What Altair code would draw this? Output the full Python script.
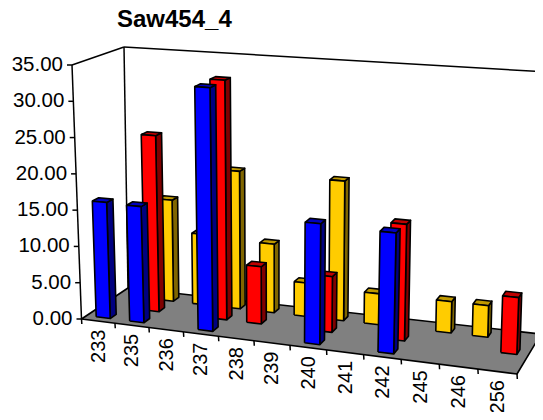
import altair as alt
import numpy as np

categories = ["233", "235", "236", "237", "238", "239", "240", "241", "242", "245", "246", "256"]
blue = [16.0, 15.9, None, 32.9, None, None, 16.0, None, 15.8, None, None, None]
red = [None, 24.5, None, 32.9, 7.8, None, 7.5, None, 15.5, None, None, 7.4]
yellow = [None, 14.3, 9.9, 19.2, 9.5, 4.6, 19.1, 4.2, None, 4.2, 4.2, None]
value_ticks = [0, 5, 10, 15, 20, 25, 30, 35]
title_text = "Saw454_4"

# series, back row to front row: (values, row, face, side, top)
series = [
    (yellow, 2, "#FFCC00", "#806600", "#BF9900"),
    (red, 1, "#FF0000", "#800000", "#BF0000"),
    (blue, 0, "#0000FF", "#000080", "#0000BF"),
]

N, D, VMAX = len(categories), 3, 35.0
FLOOR = [(81.5, 319), (517, 374), (541, 334), (128, 288)]
# how the vertical edge at each floor corner runs up to the value-axis maximum
RISE = [(-9.5, -254), (11, -275), (7, -262), (-4, -241)]
WORLD = [(0, 0), (N, 0), (N, D), (0, D)]


def homography(src, dst):
    A, b = [], []
    for (x, y), (u, v) in zip(src, dst):
        A.append([x, y, 1, 0, 0, 0, -u * x, -u * y]); b.append(u)
        A.append([0, 0, 0, x, y, 1, -v * x, -v * y]); b.append(v)
    h = np.linalg.solve(np.array(A, float), np.array(b, float))
    return np.append(h, 1).reshape(3, 3)


HF = homography(WORLD, FLOOR)


def project(c, d, v):
    u, w = c / N, d / D
    rise = [
        (1 - u) * (1 - w) * RISE[0][k] + u * (1 - w) * RISE[1][k]
        + u * w * RISE[2][k] + (1 - u) * w * RISE[3][k]
        for k in (0, 1)
    ]
    c = c + 0.08 * c * (N - c) / N
    p = HF @ [c, d, 1]
    p = p[:2] / p[2]
    return float(p[0] + rise[0] * v / VMAX), float(p[1] + rise[1] * v / VMAX)


polys = []


def add_poly(pts, fill):
    pid = len(set(r["poly"] for r in polys))
    for s, (x, y) in enumerate(pts + pts[:1]):
        polys.append({"poly": pid, "seq": s, "x": x, "y": y, "fill": fill})


add_poly([project(0, 0, 0), project(N, 0, 0), project(N, D, 0), project(0, D, 0)], "#808080")

BW, BD = 0.42, 0.38
for vals, row, face, side, top in series:
    for i, v in enumerate(vals):
        if v is None:
            continue
        c0, c1 = i + 0.5 - BW / 2, i + 0.5 + BW / 2
        d0, d1 = row + 0.5 - BD / 2, row + 0.5 + BD / 2
        add_poly([project(c1, d0, 0), project(c1, d1, 0), project(c1, d1, v), project(c1, d0, v)], side)
        add_poly([project(c0, d0, v), project(c1, d0, v), project(c1, d1, v), project(c0, d1, v)], top)
        add_poly([project(c0, d0, 0), project(c1, d0, 0), project(c1, d0, v), project(c0, d0, v)], face)

lines = []


def add_line(a, b):
    lid = len(lines) // 2
    lines.append({"line": lid, "seq": 0, "x": a[0], "y": a[1]})
    lines.append({"line": lid, "seq": 1, "x": b[0], "y": b[1]})


add_line(project(0, 0, 0), project(0, 0, VMAX))
add_line(project(0, 0, VMAX), project(0, D, VMAX))
add_line(project(0, D, VMAX), project(0, D, 0))
add_line(project(0, D, VMAX), project(N, D, VMAX))
add_line(project(N, D, VMAX), project(N, D, 0))
for t in value_ticks:
    x, y = project(0, 0, t)
    add_line((x - 5, y), (x, y))
for i in range(N + 1):
    x, y = project(i, 0, 0)
    add_line((x, y), (x + 0.3, y + 5))

y_labels = []
for t in value_ticks:
    x, y = project(0, 0, t)
    y_labels.append({"x": x - 9, "y": y, "label": f"{t:.2f}"})
x_labels = []
for i, c in enumerate(categories):
    x, y = project(i + 0.5, 0, 0)
    x_labels.append({"x": x + 0.5, "y": y + 8.5, "label": c})

W, H = 527, 404
X = alt.X("x:Q", axis=None, scale=alt.Scale(domain=[8, 8 + W], nice=False, zero=False))
Y = alt.Y("y:Q", axis=None, scale=alt.Scale(domain=[8 + H, 8], nice=False, zero=False))
FONT = "Liberation Sans"

poly_layer = alt.Chart(alt.Data(values=polys)).mark_line(
    stroke="black", strokeWidth=1.6, strokeJoin="round", clip=True
).encode(
    x=X, y=Y, detail="poly:O", order="seq:Q",
    fill=alt.Fill("fill:N", scale=None),
)
line_layer = alt.Chart(alt.Data(values=lines)).mark_line(
    stroke="black", strokeWidth=1.5, clip=True
).encode(x=X, y=Y, detail="line:O", order="seq:Q")
ylab_layer = alt.Chart(alt.Data(values=y_labels)).mark_text(
    font=FONT, fontSize=20.5, align="right", baseline="middle", color="black"
).encode(x=X, y=Y, text="label:N")
xlab_layer = alt.Chart(alt.Data(values=x_labels)).mark_text(
    font=FONT, fontSize=20, align="right", baseline="middle", angle=270, color="black"
).encode(x=X, y=Y, text="label:N")
title_layer = alt.Chart(alt.Data(values=[{"x": 117, "y": 20, "label": title_text}])).mark_text(
    font=FONT, fontSize=24, fontWeight="bold", align="left", baseline="middle", color="black"
).encode(x=X, y=Y, text="label:N")

chart = alt.layer(line_layer, poly_layer, ylab_layer, xlab_layer, title_layer).properties(
    width=W, height=H, padding=0, autosize=alt.AutoSizeParams(type="none"),
    background="white",
).configure_view(stroke=None)

chart.save("out.html", embed_options={"renderer": "svg", "actions": False})
